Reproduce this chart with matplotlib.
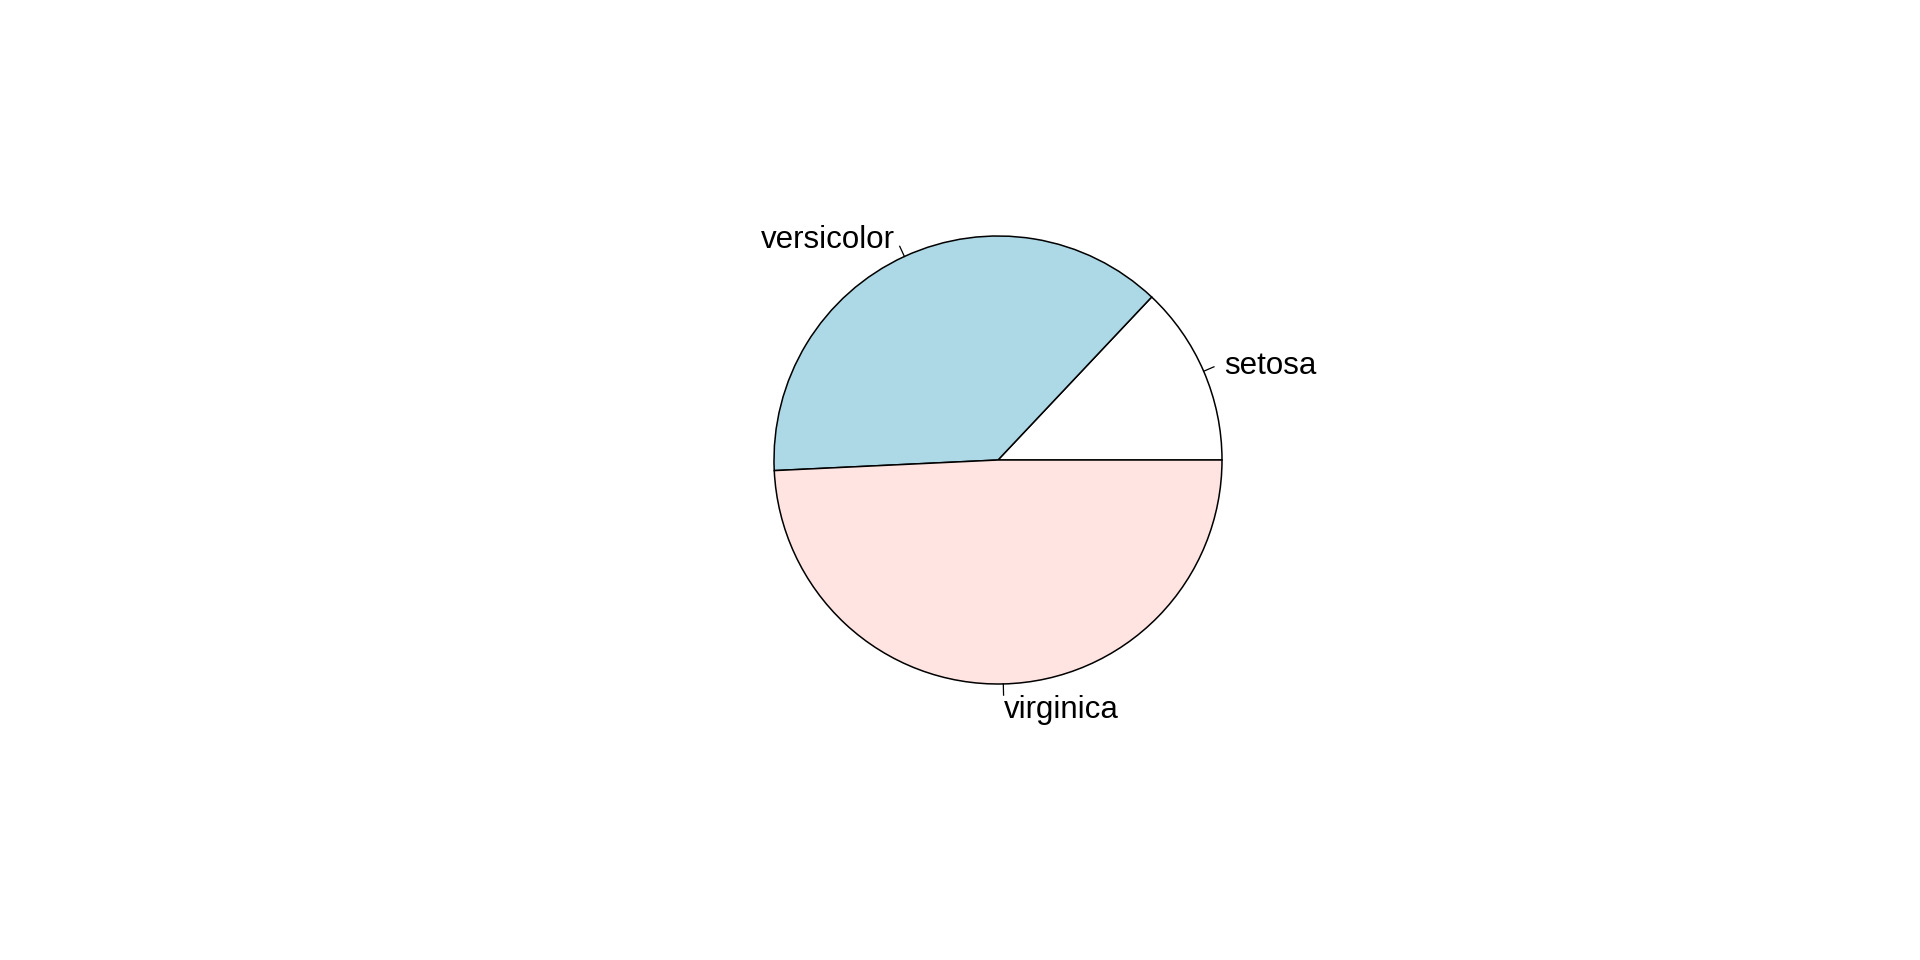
import numpy as np
import matplotlib.pyplot as plt
from matplotlib.patches import Wedge

species = ["setosa", "versicolor", "virginica"]
petal_length_sum = [73.1, 213.0, 277.6]
colors = ["white", "#ADD8E6", "#FFE4E1"]

fig = plt.figure(figsize=(19.2, 9.6), dpi=100)
ax = fig.add_axes([0, 0, 1, 1])
ax.set_xlim(-998 / 280, (1920 - 998) / 280)
ax.set_ylim(-(960 - 460) / 280, 460 / 280)
ax.set_aspect("equal")
ax.axis("off")

r = 0.8
vals = np.array(petal_length_sum)
bounds = np.concatenate([[0], np.cumsum(vals) / vals.sum() * 360])
for i, name in enumerate(species):
    t1, t2 = bounds[i], bounds[i + 1]
    ax.add_patch(Wedge((0, 0), r, t1, t2, facecolor=colors[i],
                       edgecolor="black", linewidth=1.1))
    mid = np.deg2rad((t1 + t2) / 2)
    c, s = np.cos(mid), np.sin(mid)
    ax.plot([r * c, 1.05 * r * c], [r * s, 1.05 * r * s], color="black", lw=0.9)
    # small downward nudge to match R's vertical centring
    ax.text(1.1 * r * c, 1.1 * r * s - 0.014, name, fontsize=22.5, family="Liberation Sans",
            ha="left" if c > 0 else "right", va="center")

fig.savefig("out.png", dpi=100)
